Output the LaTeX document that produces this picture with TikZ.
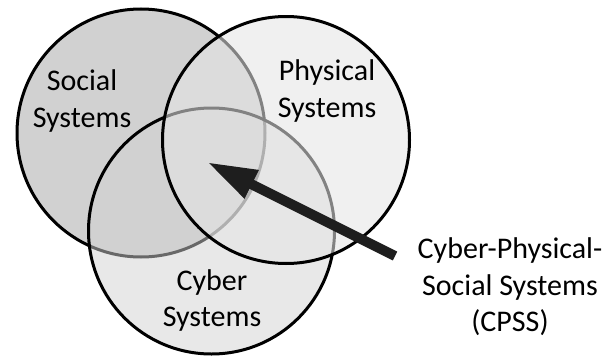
\documentclass[tikz,border=0pt]{standalone}
\usepackage{fontspec}
\setmainfont{Carlito}
\usetikzlibrary{arrows.meta}
\definecolor{socialfill}{RGB}{209,209,209}
\definecolor{cyberfill}{RGB}{209,209,209}
\definecolor{physfill}{RGB}{229,229,229}
\definecolor{arrowcol}{RGB}{30,30,30}
\tikzset{
  setcircle/.style={circle, draw=black, line width=3pt, inner sep=0pt, minimum size=#1},
  label/.style={align=center, font=\fontsize{30}{36.6}\selectfont, text=black, inner sep=0pt},
  bigarrow/.style={draw=arrowcol, line width=10pt, -{Triangle[length=50pt,width=29pt]}}
}
\begin{document}
\begin{tikzpicture}[x=1pt,y=-1pt]
\useasboundingbox (0,0) rectangle (608,356);
\node[setcircle=248pt, fill=socialfill] (social) at (141,133) {};
\node[setcircle=246pt, fill=cyberfill, fill opacity=0.5] (cyber) at (211.5,231) {};
\node[setcircle=247pt, fill=physfill, fill opacity=0.57] (physical) at (286,140) {};
\node[label] (socialtext) at (82,101) {Social\\Systems};
\node[label] (phystext) at (327,91) {Physical\\Systems};
\node[label] (cybertext) at (212,300.5) {Cyber\\Systems};
\node[label] (cpsstext) at (510,287) {Cyber-Physical-\\Social Systems\\(CPSS)};
\coordinate (arrowtail) at (395,256);
\coordinate (arrowtip) at (207,162);
\draw[bigarrow] (arrowtail) -- (arrowtip);
\end{tikzpicture}
\end{document}
